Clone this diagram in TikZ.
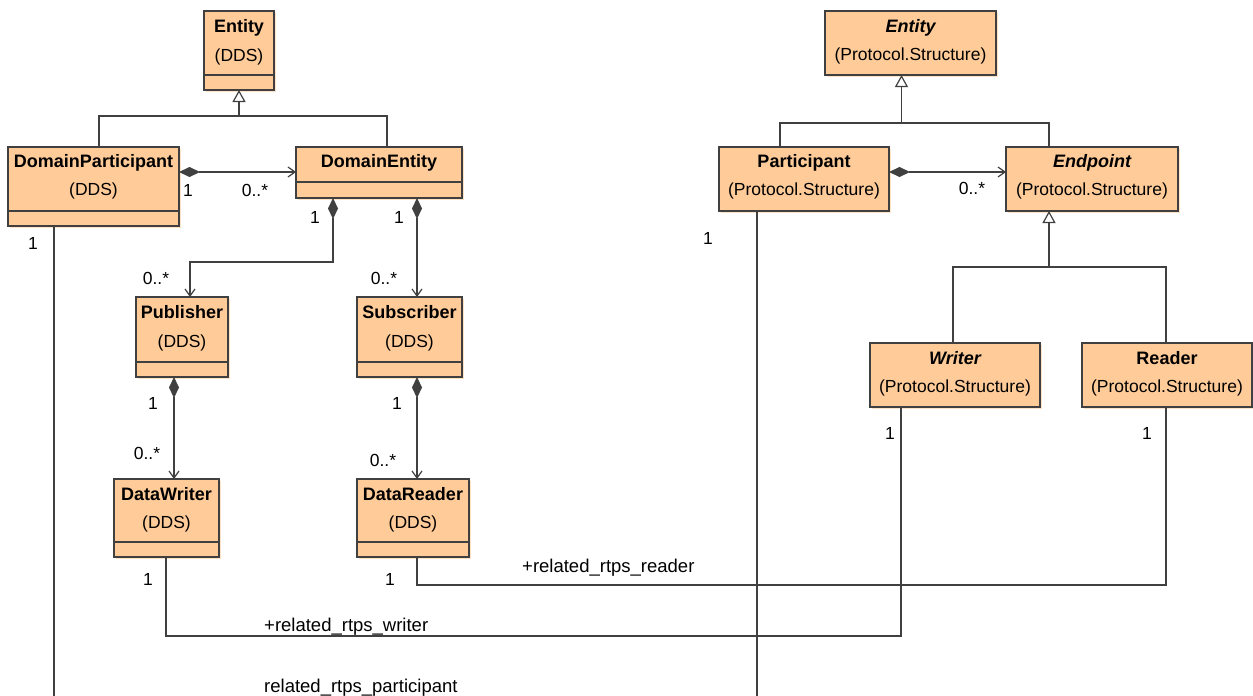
\documentclass[tikz,border=0pt]{standalone}
\usepackage{fontspec}
\setmainfont{Liberation Sans}
\usetikzlibrary{arrows.meta,shadows,calc}
\definecolor{boxfill}{HTML}{FFCC99}
\definecolor{linec}{HTML}{404040}
\definecolor{shadowc}{HTML}{FFE2C6}
\begin{document}
\begin{tikzpicture}[x=1pt,y=-1pt,
  umlbox/.style={draw=linec, fill=boxfill, line width=1.5pt, inner sep=0pt, outer sep=0pt, anchor=north west,
    drop shadow={shadow xshift=2pt,shadow yshift=-2pt,fill=shadowc,opacity=1}},
  cname/.style={font=\fontsize{18}{20}\selectfont\bfseries, inner sep=0pt, anchor=base},
  cnamei/.style={font=\fontsize{18}{20}\selectfont\bfseries\itshape, inner sep=0pt, anchor=base},
  stereo/.style={font=\fontsize{17.5}{20}\selectfont, inner sep=0pt, anchor=base},
  mult/.style={font=\fontsize{17.5}{20}\selectfont, inner sep=0pt},
  role/.style={font=\fontsize{18.5}{20}\selectfont, inner sep=0pt, anchor=base west},
  conn/.style={draw=linec, line width=1.2pt},
  comp/.style={conn, {Diamond[length=21pt,width=10pt,fill=linec]}-{Straight Barb[length=7pt,width=10pt]}},
  gen/.style={conn, -{Triangle[open,length=12pt,width=13pt,fill=white]}},
  sepline/.style={draw=linec, line width=1.5pt}]
\useasboundingbox (0,0) rectangle (1253,696);

% ---------- boxes ----------
\node[umlbox, minimum width=70pt, minimum height=79pt] (eDDS) at (204,11) {};
\node[umlbox, minimum width=171pt, minimum height=79pt] (dp) at (8,147) {};
\node[umlbox, minimum width=166pt, minimum height=51pt] (de) at (296,147) {};
\node[umlbox, minimum width=92pt, minimum height=80pt] (pub) at (136,297) {};
\node[umlbox, minimum width=105pt, minimum height=80pt] (sub) at (357,297) {};
\node[umlbox, minimum width=105pt, minimum height=78pt] (dw) at (114,479) {};
\node[umlbox, minimum width=112pt, minimum height=78pt] (dr) at (357,479) {};
\node[umlbox, minimum width=171pt, minimum height=64pt] (ePS) at (825,11) {};
\node[umlbox, minimum width=170pt, minimum height=64pt] (part) at (719,147) {};
\node[umlbox, minimum width=172pt, minimum height=64pt] (endp) at (1006,147) {};
\node[umlbox, minimum width=170pt, minimum height=64pt] (wr) at (870,343) {};
\node[umlbox, minimum width=170pt, minimum height=64pt] (rd) at (1082,343) {};

% compartment lines
\foreach \b in {eDDS,dp,pub,sub,dw,dr}{
  \draw[sepline] ([yshift=15pt]\b.south west) -- ([yshift=15pt]\b.south east);
}
\draw[sepline] ([yshift=16pt]de.south west) -- ([yshift=16pt]de.south east);

% ---------- texts (baselines) ----------
\node[cname] (t1) at (239,32) {Entity};
\node[stereo] (s1) at (239,61) {(DDS)};
\node[cname] (t2) at (93.5,167) {DomainParticipant};
\node[stereo] (s2) at (93.5,195) {(DDS)};
\node[cname] (t3) at (379,167) {DomainEntity};
\node[cname] (t4) at (182,318.5) {Publisher};
\node[stereo] (s4) at (182,347.5) {(DDS)};
\node[cname] (t5) at (409.5,318.5) {Subscriber};
\node[stereo] (s5) at (409.5,347.5) {(DDS)};
\node[cname] (t6) at (166.5,500.5) {DataWriter};
\node[stereo] (s6) at (166.5,528) {(DDS)};
\node[cname] (t7) at (413,500.5) {DataReader};
\node[stereo] (s7) at (413,528) {(DDS)};
\node[cnamei] (t8) at (910.5,32) {Entity};
\node[stereo] (s8) at (910.5,60) {(Protocol.Structure)};
\node[cname] (t9) at (804,167) {Participant};
\node[stereo] (s9) at (804,195) {(Protocol.Structure)};
\node[cnamei] (t10) at (1092,167) {Endpoint};
\node[stereo] (s10) at (1092,195) {(Protocol.Structure)};
\node[cnamei] (t11) at (955,364.5) {Writer};
\node[stereo] (s11) at (955,392) {(Protocol.Structure)};
\node[cname] (t12) at (1167,364.5) {Reader};
\node[stereo] (s12) at (1167,392) {(Protocol.Structure)};

% ---------- generalizations ----------
\coordinate (g1) at ([yshift=-26pt]eDDS.south);
\draw[gen] (g1) -- (eDDS.south);
\draw[conn] ([xshift=91pt]dp.north west) |- (g1) -| ([xshift=91pt]de.north west);

\coordinate (g2) at ([xshift=-9pt,yshift=-48pt]ePS.south);
\draw[gen] (g2) -- (g2 |- ePS.south);
\draw[conn] ([xshift=61pt]part.north west) |- (g2) -| ([xshift=43pt]endp.north west);

\coordinate (g3) at ([xshift=43pt,yshift=-56pt]endp.south west);
\draw[gen] (g3) -- (g3 |- endp.south);
\draw[conn] ([xshift=83pt]wr.north west) |- (g3) -| ([xshift=84pt]rd.north west);

% ---------- compositions ----------
\draw[comp] ([yshift=-25pt]dp.north east) -- ([yshift=-25pt]de.north west);
\draw[comp] ([yshift=-25pt]part.north east) -- ([yshift=-25pt]endp.north west);
\coordinate (c1) at (190,262);
\draw[comp] ([xshift=37pt]de.south west) |- (c1) -- (c1 |- pub.north);
\draw[comp] ([xshift=121pt]de.south west) -- ([xshift=60pt]sub.north west);
\draw[comp] ([xshift=38pt]pub.south west) -- ([xshift=60pt]dw.north west);
\draw[comp] ([xshift=60pt]sub.south west) -- ([xshift=60pt]dr.north west);

% ---------- associations ----------
\coordinate (busR) at (0,585);
\coordinate (busW) at (0,636);
\coordinate (busB) at (0,696);
\coordinate (drb) at ([xshift=60pt]dr.south west);
\coordinate (rdb) at ([xshift=84pt]rd.south west);
\draw[conn] (drb) -- (drb |- busR) -- (rdb |- busR) -- (rdb);
\coordinate (dwb) at ([xshift=52pt]dw.south west);
\coordinate (wrb) at ([xshift=31pt]wr.south west);
\draw[conn] (dwb) -- (dwb |- busW) -- (wrb |- busW) -- (wrb);
\coordinate (dpb) at ([xshift=46pt]dp.south west);
\draw[conn] (dpb) -- (dpb |- busB);
\coordinate (ptb) at ([xshift=38pt]part.south west);
\draw[conn] (ptb) -- (ptb |- busB);

% ---------- multiplicities and roles ----------
\node[mult] (m1) at (188,190) {1};
\node[mult] (m2) at (255,190) {0..*};
\node[mult] (m3) at (315,217) {1};
\node[mult] (m4) at (399,217) {1};
\node[mult] (m5) at (156,278) {0..*};
\node[mult] (m6) at (384,278) {0..*};
\node[mult] (m7) at (153,403) {1};
\node[mult] (m8) at (397,403) {1};
\node[mult] (m9) at (147,453) {0..*};
\node[mult] (m10) at (383,460) {0..*};
\node[mult] (m11) at (148,579) {1};
\node[mult] (m12) at (390,579) {1};
\node[mult] (m13) at (33,243) {1};
\node[mult] (m14) at (708,238) {1};
\node[mult] (m15) at (972,188) {0..*};
\node[mult] (m16) at (890,433) {1};
\node[mult] (m17) at (1147,433) {1};
\node[role] (r1) at (522,572) {+related\_rtps\_reader};
\node[role] (r2) at (264,631) {+related\_rtps\_writer};
\node[role] (r3) at (264,692) {related\_rtps\_participant};
\end{tikzpicture}
\end{document}
